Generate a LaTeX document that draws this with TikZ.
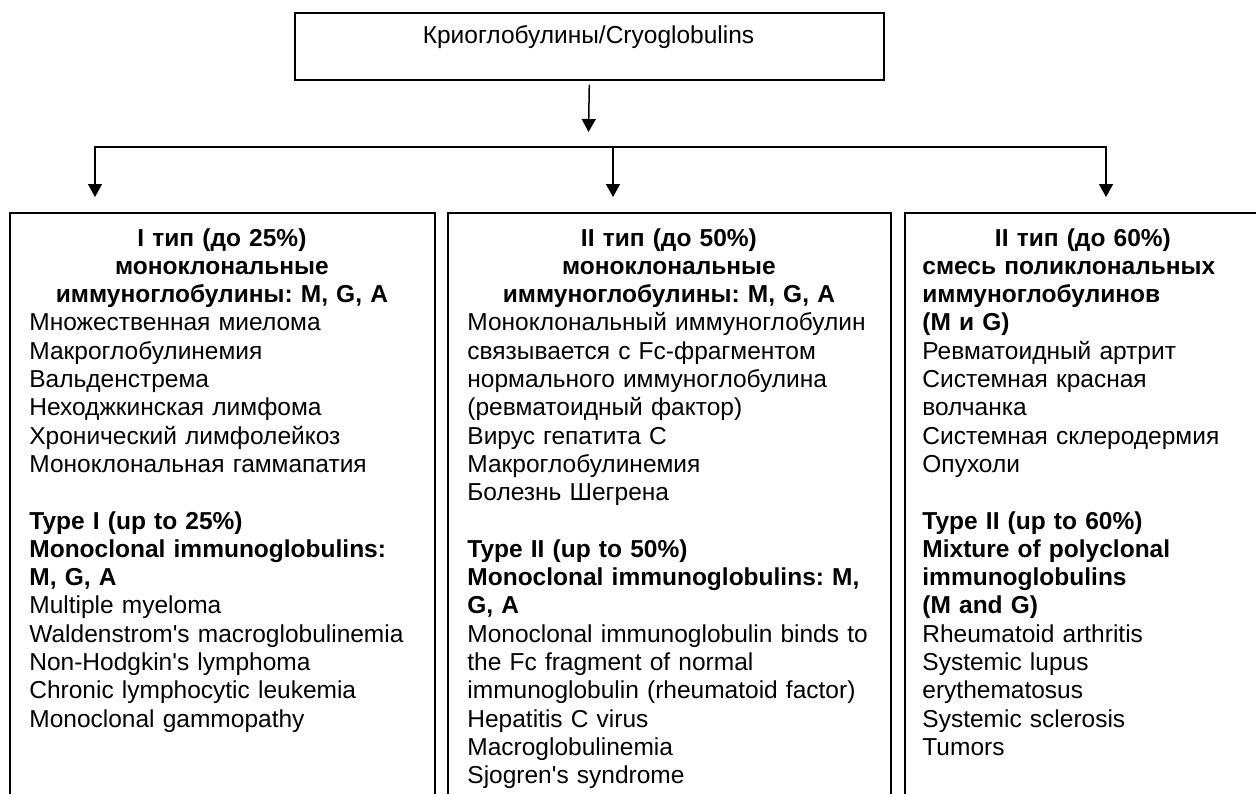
\documentclass[tikz,border=0pt]{standalone}
\usepackage{fontspec}
\setmainfont{Liberation Sans}
\usetikzlibrary{arrows.meta}
\frenchspacing

\tikzset{
  box/.style={draw, line width=0.8pt, anchor=north west, inner sep=0pt},
  txt/.style={inner sep=0pt, font=\fontsize{12.25}{14.15}\selectfont},
  list/.style={txt, anchor=base west, align=left},
  conn/.style={line width=0.75pt},
  tip/.style={-{Triangle[width=7pt,length=6.5pt]}}
}

\begin{document}
\begin{tikzpicture}[line cap=butt,line join=miter,x=0.5pt,y=-0.5pt]
\clip (0,0) rectangle (1256,793);

% frames
\node[box, minimum width=294.5pt, minimum height=33.5pt] (cryo) at (294,12) {};
\node[box, minimum width=212.5pt, minimum height=310pt] (typeone) at (9,212) {};
\node[box, minimum width=221.5pt, minimum height=310pt] (typetwo) at (447,212) {};
\node[box, minimum width=178.5pt, minimum height=310pt] (typethree) at (904,212) {};

\node[txt, anchor=base] (cryotext) at (588.5,43) {Криоглобулины/Cryoglobulins};

% branching
\coordinate (hub) at (588.5,132);
\coordinate (left) at (95,147);
\coordinate (right) at (1106,147);
\coordinate (mid) at (613,147);
\coordinate (tipone) at (95,197);
\coordinate (tiptwo) at (613,197);
\coordinate (tipthree) at (1106,197);

\draw [conn,tip] ([yshift=-2pt]cryo.south) -- (hub);
\draw [conn,{Triangle[width=7pt,length=6.5pt]}-{Triangle[width=7pt,length=6.5pt]}] (tipone) -- (left) -- (right) -- (tipthree);
\draw [conn,tip] (mid) -- (tiptwo);

% texts
\node[list, text width=192.5pt] (onetext) at (29,246) {%
{\centering\bfseries I тип (до 25\%)\\ моноклональные\\ иммуноглобулины: M, G, A\par}
Множественная миелома\\
Макроглобулинемия\\
Вальденстрема\\
Неходжкинская лимфома\\
Хронический лимфолейкоз\\
Моноклональная гаммапатия\\[\baselineskip]
{\bfseries Type I (up to 25\%)\\ Monoclonal immunoglobulins:\\ M, G, A}\\
Multiple myeloma\\
Waldenstrom\textquotesingle s macroglobulinemia\\
Non-Hodgkin\textquotesingle s lymphoma\\
Chronic lymphocytic leukemia\\
Monoclonal gammopathy};

\node[list, text width=201.5pt] (twotext) at (467,246) {%
{\centering\bfseries II тип (до 50\%)\\ моноклональные\\ иммуноглобулины: M, G, A\par}
Моноклональный иммуноглобулин\\
связывается с Fc-фрагментом\\
нормального иммуноглобулина\\
(ревматоидный фактор)\\
Вирус гепатита C\\
Макроглобулинемия\\
Болезнь Шегрена\\[\baselineskip]
{\bfseries Type II (up to 50\%)\\ Monoclonal immunoglobulins: M,\\ G, A}\\
Monoclonal immunoglobulin binds to\\
the Fc fragment of normal\\
immunoglobulin (rheumatoid factor)\\
Hepatitis C virus\\
Macroglobulinemia\\
Sjogren\textquotesingle s syndrome};

\node[list, text width=160.5pt] (threetext) at (922,246) {%
{\centering\bfseries II тип (до 60\%)\par}
{\bfseries смесь поликлональных\\ иммуноглобулинов\\ (M и G)}\\
Ревматоидный артрит\\
Системная красная\\
волчанка\\
Системная склеродермия\\
Опухоли\\[\baselineskip]
{\bfseries Type II (up to 60\%)\\ Mixture of polyclonal\\ immunoglobulins\\ (M and G)}\\
Rheumatoid arthritis\\
Systemic lupus\\
erythematosus\\
Systemic sclerosis\\
Tumors};

\end{tikzpicture}
\end{document}
